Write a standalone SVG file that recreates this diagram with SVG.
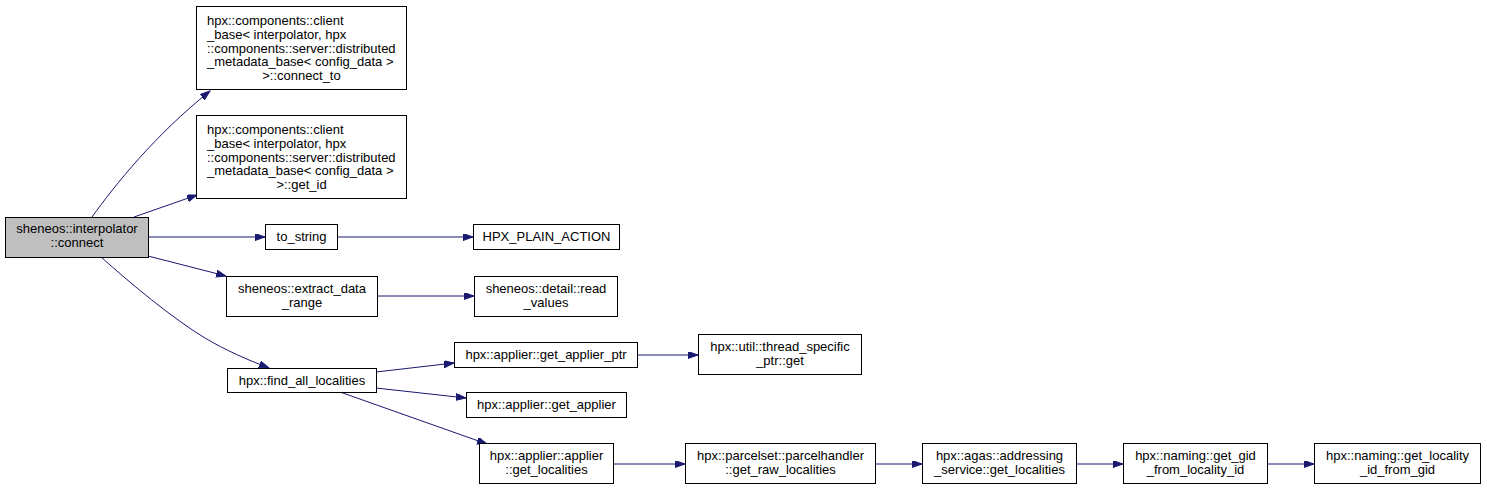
<svg xmlns="http://www.w3.org/2000/svg" width="1487" height="490" viewBox="0 0 1487 490">
<style>
  .box { fill: #ffffff; stroke: #000000; stroke-width: 1; }
  .root { fill: #bfbfbf; stroke: #000000; stroke-width: 1; }
  text { font-family: "Liberation Sans", Arial, sans-serif; font-size: 13px; fill: #000000; }
  .c { text-anchor: middle; }
  .e { fill: none; stroke: #191970; stroke-width: 1; marker-end: url(#arr); }
</style>
<defs>
  <marker id="arr" markerUnits="userSpaceOnUse" markerWidth="11" markerHeight="8" refX="10" refY="3.5" orient="auto">
    <path d="M0,0 L10,3.5 L0,7 Z" fill="#191970" stroke="#191970" stroke-width="1"/>
  </marker>
</defs>
<rect width="1487" height="490" fill="#ffffff"/>

<g id="edges">
  <path class="e" d="M92,217 C115,185 155,135 210,91"/>
  <path class="e" d="M134,217 L197,195"/>
  <path class="e" d="M148,237 L265,237"/>
  <path class="e" d="M148,256 L226,276"/>
  <path class="e" d="M101,257 C130,283 172,318 205,338 C225,350 248,360 269,368"/>
  <path class="e" d="M337,237 L473,237"/>
  <path class="e" d="M377,296 L474,296"/>
  <path class="e" d="M376,372 L454,363"/>
  <path class="e" d="M376,388 L466,398"/>
  <path class="e" d="M340,392 L487,444"/>
  <path class="e" d="M638,355 L698,355"/>
  <path class="e" d="M613,464 L685,464"/>
  <path class="e" d="M875,464 L922,464"/>
  <path class="e" d="M1076,464 L1123,464"/>
  <path class="e" d="M1267,464 L1314,464"/>
</g>

<g id="node_connect">
  <rect class="root" x="5.5" y="217.5" width="143" height="40"/>
  <text class="c" x="77" y="233">sheneos::interpolator</text>
  <text class="c" x="77" y="247">::connect</text>
</g>

<g id="node_connect_to">
  <rect class="box" x="196.5" y="6.5" width="210" height="83"/>
  <text x="207" y="25">hpx::components::client</text>
  <text x="207" y="39">_base&lt; interpolator, hpx</text>
  <text x="207" y="52.5">::components::server::distributed</text>
  <text x="207" y="66">_metadata_base&lt; config_data &gt;</text>
  <text class="c" x="301.5" y="80">&gt;::connect_to</text>
</g>

<g id="node_get_id">
  <rect class="box" x="196.5" y="115.5" width="210" height="83"/>
  <text x="207" y="134">hpx::components::client</text>
  <text x="207" y="148">_base&lt; interpolator, hpx</text>
  <text x="207" y="161.5">::components::server::distributed</text>
  <text x="207" y="175">_metadata_base&lt; config_data &gt;</text>
  <text class="c" x="301.5" y="189">&gt;::get_id</text>
</g>

<g id="node_to_string">
  <rect class="box" x="265.5" y="224.5" width="72" height="25"/>
  <text class="c" x="301.5" y="241">to_string</text>
</g>

<g id="node_hpx_plain_action">
  <rect class="box" x="473.5" y="224.5" width="146" height="25"/>
  <text class="c" x="546.5" y="241">HPX_PLAIN_ACTION</text>
</g>

<g id="node_extract_data_range">
  <rect class="box" x="226.5" y="276.5" width="151" height="40"/>
  <text class="c" x="302" y="292.5">sheneos::extract_data</text>
  <text class="c" x="302" y="306.5">_range</text>
</g>

<g id="node_read_values">
  <rect class="box" x="474.5" y="276.5" width="143" height="40"/>
  <text class="c" x="546" y="292.5">sheneos::detail::read</text>
  <text class="c" x="546" y="306.5">_values</text>
</g>

<g id="node_find_all_localities">
  <rect class="box" x="227.5" y="368.5" width="149" height="24"/>
  <text class="c" x="302" y="384.5">hpx::find_all_localities</text>
</g>

<g id="node_get_applier_ptr">
  <rect class="box" x="454.5" y="342.5" width="183" height="25"/>
  <text class="c" x="546" y="359">hpx::applier::get_applier_ptr</text>
</g>

<g id="node_thread_specific_ptr_get">
  <rect class="box" x="698.5" y="334.5" width="163" height="40"/>
  <text class="c" x="780" y="350.5">hpx::util::thread_specific</text>
  <text class="c" x="780" y="364.5">_ptr::get</text>
</g>

<g id="node_get_applier">
  <rect class="box" x="466.5" y="392.5" width="160" height="25"/>
  <text class="c" x="546.5" y="409">hpx::applier::get_applier</text>
</g>

<g id="node_applier_get_localities">
  <rect class="box" x="479.5" y="443.5" width="134" height="40"/>
  <text class="c" x="546.5" y="460">hpx::applier::applier</text>
  <text class="c" x="546.5" y="474">::get_localities</text>
</g>

<g id="node_get_raw_localities">
  <rect class="box" x="685.5" y="443.5" width="190" height="40"/>
  <text class="c" x="780.5" y="460">hpx::parcelset::parcelhandler</text>
  <text class="c" x="780.5" y="474">::get_raw_localities</text>
</g>

<g id="node_addressing_get_localities">
  <rect class="box" x="922.5" y="443.5" width="154" height="40"/>
  <text class="c" x="999.5" y="460">hpx::agas::addressing</text>
  <text class="c" x="999.5" y="474">_service::get_localities</text>
</g>

<g id="node_get_gid_from_locality_id">
  <rect class="box" x="1123.5" y="443.5" width="144" height="40"/>
  <text class="c" x="1195.5" y="460">hpx::naming::get_gid</text>
  <text class="c" x="1195.5" y="474">_from_locality_id</text>
</g>

<g id="node_get_locality_id_from_gid">
  <rect class="box" x="1314.5" y="443.5" width="166" height="40"/>
  <text class="c" x="1397.5" y="460">hpx::naming::get_locality</text>
  <text class="c" x="1397.5" y="474">_id_from_gid</text>
</g>
</svg>
